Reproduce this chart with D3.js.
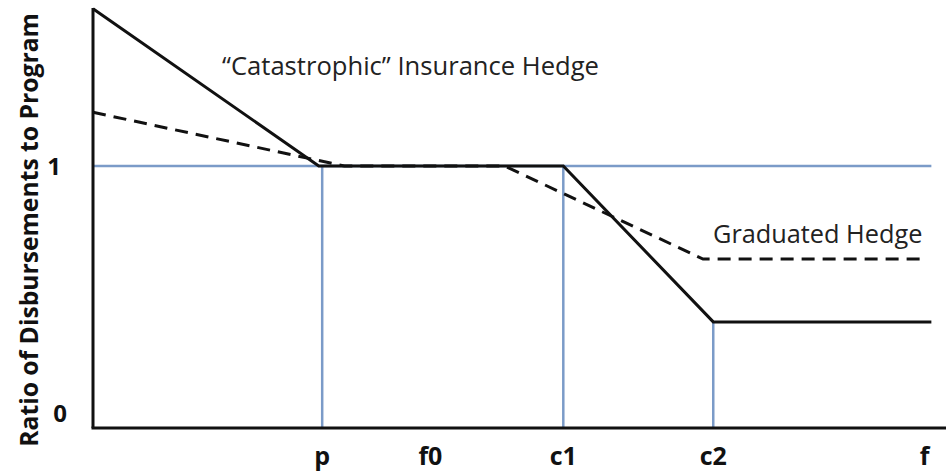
<!DOCTYPE html>
<html><head><meta charset="utf-8">
<script src="https://cdn.jsdelivr.net/npm/d3@7/dist/d3.min.js"></script>
<style>body{margin:0;background:#fff;} svg{display:block;}</style>
</head><body>
<svg id="c" width="946" height="474"></svg>
<script>
// x positions in abstract units along the f axis (0..100)
const xTickLabels = ["p", "f0", "c1", "c2", "f"];
const xTickValues = [26.9, 39.6, 55.2, 72.8, 97.6];
const yTickLabels = ["0", "1"];
const yTickValues = [0, 1];
// Catastrophic insurance hedge (solid)
const catX = [0, 26.5, 55.2, 72.8, 98.4];
const catY = [1.60, 1.0, 1.0, 0.405, 0.405];
// Graduated hedge (dashed)
const gradX = [0, 29.5, 48.3, 71.6, 97.3];
const gradY = [1.205, 1.0, 1.0, 0.645, 0.645];
// reference lines (blue)
const refLevel = 1;
const refX = [26.9, 55.2, 72.8];
const refTop = [1, 1, 0.405];
const refEnd = 98.4;

const svg = d3.select("#c");
const x = d3.scaleLinear().domain([0, 100]).range([93, 945]);
const y = d3.scaleLinear().domain([0, 1]).range([428, 166]);
const blue = "#7b9bc8";

// blue reference lines
svg.append("line").attr("x1", x(0)).attr("x2", x(refEnd))
  .attr("y1", y(refLevel)).attr("y2", y(refLevel))
  .attr("stroke", blue).attr("stroke-width", 2.5);
refX.forEach((v, i) => {
  svg.append("line").attr("x1", x(v)).attr("x2", x(v))
    .attr("y1", y(0)).attr("y2", y(refTop[i]))
    .attr("stroke", blue).attr("stroke-width", 2.5);
});

const line = d3.line().x(d => x(d[0])).y(d => y(d[1]));
svg.append("path").datum(gradX.map((v, i) => [v, gradY[i]]))
  .attr("d", line).attr("fill", "none").attr("stroke", "#111")
  .attr("stroke-width", 3).attr("stroke-dasharray", "13,8");
svg.append("path").datum(catX.map((v, i) => [v, catY[i]]))
  .attr("d", line).attr("fill", "none").attr("stroke", "#111")
  .attr("stroke-width", 3);

// axes
svg.append("line").attr("x1", x(0)).attr("x2", x(0)).attr("y1", 8).attr("y2", y(0))
  .attr("stroke", "#111").attr("stroke-width", 3);
svg.append("line").attr("x1", x(0) - 1.5).attr("x2", 946).attr("y1", y(0)).attr("y2", y(0))
  .attr("stroke", "#111").attr("stroke-width", 3);

// tick labels
const font = "'Open Sans', 'Noto Sans', sans-serif";
svg.selectAll(".xt").data(xTickLabels).enter().append("text")
  .attr("x", (d, i) => x(xTickValues[i])).attr("y", 465)
  .attr("text-anchor", "middle").attr("font-family", font)
  .attr("font-weight", "bold").attr("font-size", 25).attr("fill", "#111").text(d => d);
svg.selectAll(".yt").data(yTickLabels).enter().append("text")
  .attr("x", (d, i) => i === 0 ? 60 : 54)
  .attr("y", (d, i) => y(yTickValues[i]) + (i === 0 ? -6 : 9))
  .attr("text-anchor", "middle").attr("font-family", font)
  .attr("font-weight", "bold").attr("font-size", 24).attr("fill", "#111").text(d => d);

svg.append("text").attr("transform", "translate(38,230) rotate(-90)")
  .attr("text-anchor", "middle").attr("font-family", font)
  .attr("font-weight", "bold").attr("font-size", 24.7).attr("fill", "#111")
  .text("Ratio of Disbursements to Program");

svg.append("text").attr("x", 222).attr("y", 75).attr("font-family", font)
  .attr("font-size", 25.6).attr("fill", "#222").text("“Catastrophic” Insurance Hedge");
svg.append("text").attr("x", 713).attr("y", 243).attr("font-family", font)
  .attr("font-size", 25.3).attr("fill", "#222").text("Graduated Hedge");
</script>
</body></html>
